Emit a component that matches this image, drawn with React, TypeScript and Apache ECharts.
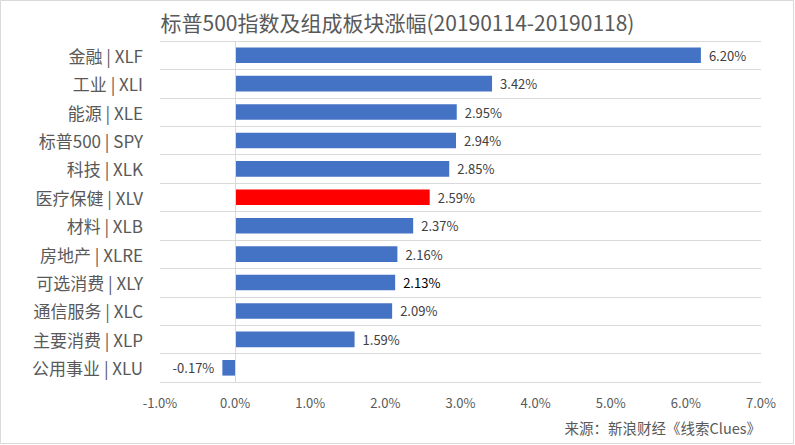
import React, { useEffect, useRef } from "react";
import * as echarts from "echarts";

const categories = [
  "金融 | XLF",
  "工业 | XLI",
  "能源 | XLE",
  "标普500 | SPY",
  "科技 | XLK",
  "医疗保健 | XLV",
  "材料 | XLB",
  "房地产 | XLRE",
  "可选消费 | XLY",
  "通信服务 | XLC",
  "主要消费 | XLP",
  "公用事业 | XLU",
];
const values = [6.2, 3.42, 2.95, 2.94, 2.85, 2.59, 2.37, 2.16, 2.13, 2.09, 1.59, -0.17];
const highlight = "医疗保健 | XLV";
const darkLabel = "可选消费 | XLY";
const titleText = "标普500指数及组成板块涨幅(20190114-20190118)";
const sourceText = "来源：新浪财经《线索Clues》";
const xMin = -1;
const xMax = 7;
const xInterval = 1;

const FONT = "'Noto Sans CJK SC', 'Noto Sans', sans-serif";

export default function App() {
  const ref = useRef<HTMLDivElement>(null);
  useEffect(() => {
    if (!ref.current) return;
    const chart = echarts.init(ref.current, null, { renderer: "svg" });
    const data = values.map((v, i) => {
      const item: any = { value: v };
      if (categories[i] === highlight) item.itemStyle = { color: "#FF0000" };
      if (v < 0) item.label = { position: "left" };
      if (categories[i] === darkLabel) item.label = { ...(item.label || {}), color: "#000000" };
      return item;
    });
    chart.setOption({
      animation: false,
      backgroundColor: "#ffffff",
      textStyle: { fontFamily: FONT },
      title: {
        text: titleText,
        left: "center",
        top: 6,
        textStyle: { fontFamily: FONT, fontSize: 21, fontWeight: "normal", color: "#595959" },
      },
      grid: { left: 160, right: 34, top: 41, bottom: 63, containLabel: false },
      xAxis: {
        type: "value",
        min: xMin,
        max: xMax,
        interval: xInterval,
        axisLine: { show: false },
        axisTick: { show: false },
        splitLine: { show: false },
        axisLabel: {
          color: "#595959",
          fontSize: 13,
          margin: 14,
          fontFamily: FONT,
          formatter: (v: number) => v.toFixed(1) + "%",
        },
      },
      yAxis: {
        type: "category",
        data: categories,
        inverse: true,
        axisLine: { show: false },
        axisTick: { show: false },
        splitLine: { show: true, interval: 0, lineStyle: { color: "#D9D9D9", width: 1 } },
        axisLabel: { color: "#595959", fontSize: 17, margin: 17, fontFamily: FONT },
      },
      series: [
        {
          type: "bar",
          data,
          barWidth: "55%",
          itemStyle: { color: "#4472C4" },
          label: {
            show: true,
            position: "right",
            distance: 8,
            color: "#404040",
            fontSize: 13,
            fontFamily: FONT,
            formatter: (p: any) => Number(p.value).toFixed(2) + "%",
          },
          markLine: {
            silent: true,
            symbol: "none",
            label: { show: false },
            lineStyle: { color: "#D9D9D9", type: "solid", width: 1 },
            data: [{ xAxis: 0 }],
          },
        },
      ],
      graphic: [
        {
          type: "rect",
          shape: { x: 0.5, y: 0.5, width: 793, height: 443 },
          style: { fill: "none", stroke: "#D9D9D9", lineWidth: 1 },
          silent: true,
        },
        {
          type: "text",
          right: 34,
          top: 420,
          style: { text: sourceText, fontSize: 14.5, fill: "#595959", fontFamily: FONT },
        },
      ],
    });
    return () => chart.dispose();
  }, []);
  return (
    <div style={{ position: "absolute", left: 0, top: 0, width: 795, height: 445 }}>
      <div ref={ref} style={{ width: 795, height: 445 }} />
    </div>
  );
}
